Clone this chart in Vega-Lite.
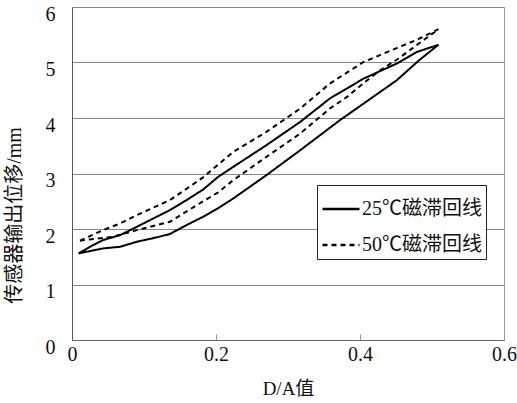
{
  "$schema": "https://vega.github.io/schema/vega-lite/v6.json",
  "autosize": "none",
  "width": 432,
  "height": 333,
  "padding": {"left": 72, "top": 7, "right": 13, "bottom": 63},
  "background": "white",
  "config": {
    "view": {"stroke": "#999", "strokeWidth": 1},
    "font": "'Liberation Serif', serif"
  },
  "data": {
    "values": [
      {"s": "25℃磁滞回线", "o": 1, "x": 0.009, "y": 1.56},
      {"s": "25℃磁滞回线", "o": 2, "x": 0.043, "y": 1.65},
      {"s": "25℃磁滞回线", "o": 3, "x": 0.067, "y": 1.68},
      {"s": "25℃磁滞回线", "o": 4, "x": 0.09, "y": 1.77},
      {"s": "25℃磁滞回线", "o": 5, "x": 0.118, "y": 1.85},
      {"s": "25℃磁滞回线", "o": 6, "x": 0.136, "y": 1.91},
      {"s": "25℃磁滞回线", "o": 7, "x": 0.159, "y": 2.07},
      {"s": "25℃磁滞回线", "o": 8, "x": 0.182, "y": 2.22},
      {"s": "25℃磁滞回线", "o": 9, "x": 0.206, "y": 2.4},
      {"s": "25℃磁滞回线", "o": 10, "x": 0.224, "y": 2.55},
      {"s": "25℃磁滞回线", "o": 11, "x": 0.27, "y": 2.97},
      {"s": "25℃磁滞回线", "o": 12, "x": 0.317, "y": 3.42},
      {"s": "25℃磁滞回线", "o": 13, "x": 0.372, "y": 3.96},
      {"s": "25℃磁滞回线", "o": 14, "x": 0.405, "y": 4.26},
      {"s": "25℃磁滞回线", "o": 15, "x": 0.451, "y": 4.68},
      {"s": "25℃磁滞回线", "o": 16, "x": 0.483, "y": 5.05},
      {"s": "25℃磁滞回线", "o": 17, "x": 0.509, "y": 5.32},
      {"s": "25℃磁滞回线", "o": 18, "x": 0.479, "y": 5.19},
      {"s": "25℃磁滞回线", "o": 19, "x": 0.451, "y": 4.98},
      {"s": "25℃磁滞回线", "o": 20, "x": 0.405, "y": 4.71},
      {"s": "25℃磁滞回线", "o": 21, "x": 0.358, "y": 4.35},
      {"s": "25℃磁滞回线", "o": 22, "x": 0.317, "y": 3.93},
      {"s": "25℃磁滞回线", "o": 23, "x": 0.27, "y": 3.51},
      {"s": "25℃磁滞回线", "o": 24, "x": 0.224, "y": 3.12},
      {"s": "25℃磁滞回线", "o": 25, "x": 0.203, "y": 2.94},
      {"s": "25℃磁滞回线", "o": 26, "x": 0.182, "y": 2.71},
      {"s": "25℃磁滞回线", "o": 27, "x": 0.159, "y": 2.52},
      {"s": "25℃磁滞回线", "o": 28, "x": 0.136, "y": 2.34},
      {"s": "25℃磁滞回线", "o": 29, "x": 0.113, "y": 2.19},
      {"s": "25℃磁滞回线", "o": 30, "x": 0.09, "y": 2.04},
      {"s": "25℃磁滞回线", "o": 31, "x": 0.067, "y": 1.89},
      {"s": "25℃磁滞回线", "o": 32, "x": 0.043, "y": 1.8},
      {"s": "25℃磁滞回线", "o": 33, "x": 0.025, "y": 1.68},
      {"s": "25℃磁滞回线", "o": 34, "x": 0.009, "y": 1.56},
      {"s": "50℃磁滞回线", "o": 1, "x": 0.011, "y": 1.79},
      {"s": "50℃磁滞回线", "o": 2, "x": 0.043, "y": 1.98},
      {"s": "50℃磁滞回线", "o": 3, "x": 0.067, "y": 2.1},
      {"s": "50℃磁滞回线", "o": 4, "x": 0.09, "y": 2.25},
      {"s": "50℃磁滞回线", "o": 5, "x": 0.136, "y": 2.52},
      {"s": "50℃磁滞回线", "o": 6, "x": 0.182, "y": 2.93},
      {"s": "50℃磁滞回线", "o": 7, "x": 0.224, "y": 3.39},
      {"s": "50℃磁滞回线", "o": 8, "x": 0.27, "y": 3.75},
      {"s": "50℃磁滞回线", "o": 9, "x": 0.317, "y": 4.17},
      {"s": "50℃磁滞回线", "o": 10, "x": 0.358, "y": 4.62},
      {"s": "50℃磁滞回线", "o": 11, "x": 0.405, "y": 5.01},
      {"s": "50℃磁滞回线", "o": 12, "x": 0.451, "y": 5.26},
      {"s": "50℃磁滞回线", "o": 13, "x": 0.479, "y": 5.41},
      {"s": "50℃磁滞回线", "o": 14, "x": 0.509, "y": 5.6},
      {"s": "50℃磁滞回线", "o": 15, "x": 0.451, "y": 5.05},
      {"s": "50℃磁滞回线", "o": 16, "x": 0.428, "y": 4.86},
      {"s": "50℃磁滞回线", "o": 17, "x": 0.405, "y": 4.63},
      {"s": "50℃磁滞回线", "o": 18, "x": 0.382, "y": 4.38},
      {"s": "50℃磁滞回线", "o": 19, "x": 0.358, "y": 4.17},
      {"s": "50℃磁滞回线", "o": 20, "x": 0.317, "y": 3.72},
      {"s": "50℃磁滞回线", "o": 21, "x": 0.27, "y": 3.3},
      {"s": "50℃磁滞回线", "o": 22, "x": 0.224, "y": 2.88},
      {"s": "50℃磁滞回线", "o": 23, "x": 0.203, "y": 2.66},
      {"s": "50℃磁滞回线", "o": 24, "x": 0.182, "y": 2.5},
      {"s": "50℃磁滞回线", "o": 25, "x": 0.136, "y": 2.13},
      {"s": "50℃磁滞回线", "o": 26, "x": 0.09, "y": 1.98},
      {"s": "50℃磁滞回线", "o": 27, "x": 0.057, "y": 1.86},
      {"s": "50℃磁滞回线", "o": 28, "x": 0.011, "y": 1.79}
    ]
  },
  "mark": {"type": "line", "color": "black", "strokeWidth": 2, "strokeCap": "butt"},
  "encoding": {
    "x": {
      "field": "x", "type": "quantitative",
      "scale": {"domain": [0, 0.6], "nice": false, "zero": false},
      "axis": {
        "values": [0, 0.2, 0.4, 0.6],
        "labelExpr": "datum.value === 0 ? '0' : format(datum.value, '.1f')",
        "grid": false,
        "domainColor": "#666",
        "tickColor": "#999",
        "tickSize": -6,
        "labelFont": "'Liberation Serif', 'DejaVu Serif', serif",
        "labelFontSize": 20,
        "labelColor": "#111",
        "labelPadding": 10,
        "labelFlush": false,
        "labelOverlap": false,
        "title": "D/A值",
        "titleFont": "'Liberation Serif', 'Noto Sans CJK SC', serif",
        "titleFontSize": 19,
        "titleFontWeight": "normal",
        "titleColor": "#111",
        "titleBaseline": "middle",
        "titleY": 48
      }
    },
    "y": {
      "field": "y", "type": "quantitative",
      "scale": {"domain": [0, 6], "nice": false, "zero": false},
      "axis": {
        "values": [0, 1, 2, 3, 4, 5, 6],
        "grid": true,
        "gridColor": "#888",
        "gridWidth": 1,
        "domainColor": "#555",
        "ticks": false,
        "labelFont": "'Liberation Serif', 'DejaVu Serif', serif",
        "labelFontSize": 20,
        "labelColor": "#111",
        "labelPadding": 17,
        "labelOffset": 7,
        "title": "传感器输出位移/mm",
        "titleFont": "'Liberation Serif', 'Noto Sans CJK SC', serif",
        "titleFontSize": 20,
        "titleFontWeight": "normal",
        "titleColor": "#111",
        "titleAngle": -90,
        "titleAlign": "center",
        "titleBaseline": "middle",
        "titleX": -58,
        "titleY": 208
      }
    },
    "strokeDash": {
      "field": "s", "type": "nominal",
      "scale": {"domain": ["25℃磁滞回线", "50℃磁滞回线"], "range": [[1, 0], [5, 4]]},
      "legend": {
        "title": null,
        "orient": "none",
        "legendX": 245,
        "legendY": 178,
        "direction": "vertical",
        "fillColor": "white",
        "strokeColor": "#222",
        "padding": 4,
        "rowPadding": 6,
        "symbolType": "stroke",
        "symbolSize": 1369,
        "symbolStrokeWidth": 2.5,
        "symbolStrokeColor": "black",
        "labelFont": "'Liberation Serif', 'Noto Sans CJK SC', serif",
        "labelFontSize": 20,
        "labelColor": "#111",
        "labelOffset": 1,
        "labelLimit": 300
      }
    },
    "order": {"field": "o", "type": "quantitative"}
  }
}
